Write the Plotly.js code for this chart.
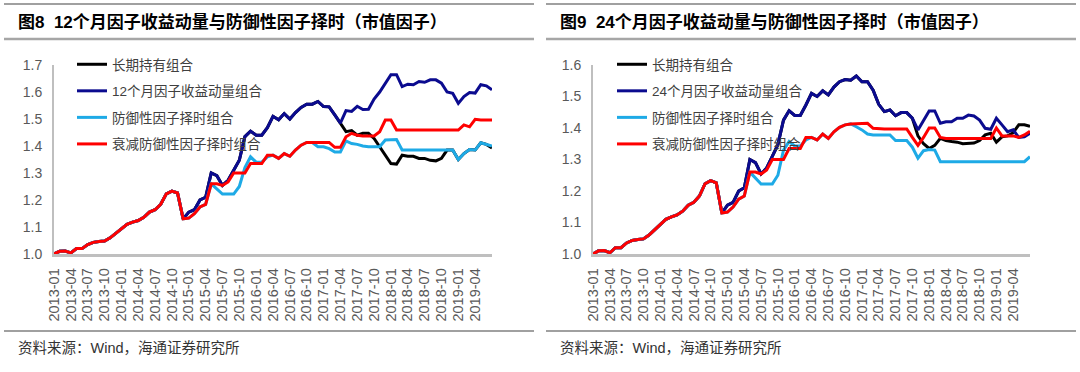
<!DOCTYPE html>
<html>
<head>
<meta charset="utf-8">
<script src="https://cdn.plot.ly/plotly-3.0.1.min.js"></script>
<style>html,body{margin:0;padding:0;background:#fff;}#chart{width:1080px;height:372px;}</style>
</head>
<body>
<div id="chart"></div>
<script>
const months = [
 "2013-01","2013-02","2013-03","2013-04","2013-05","2013-06","2013-07","2013-08","2013-09","2013-10","2013-11","2013-12",
 "2014-01","2014-02","2014-03","2014-04","2014-05","2014-06","2014-07","2014-08","2014-09","2014-10","2014-11","2014-12",
 "2015-01","2015-02","2015-03","2015-04","2015-05","2015-06","2015-07","2015-08","2015-09","2015-10","2015-11","2015-12",
 "2016-01","2016-02","2016-03","2016-04","2016-05","2016-06","2016-07","2016-08","2016-09","2016-10","2016-11","2016-12",
 "2017-01","2017-02","2017-03","2017-04","2017-05","2017-06","2017-07","2017-08","2017-09","2017-10","2017-11","2017-12",
 "2018-01","2018-02","2018-03","2018-04","2018-05","2018-06","2018-07","2018-08","2018-09","2018-10","2018-11","2018-12",
 "2019-01","2019-02","2019-03","2019-04","2019-05","2019-06","2019-07"
];
const tickLabels = ["2013-01","2013-04","2013-07","2013-10","2014-01","2014-04","2014-07","2014-10",
 "2015-01","2015-04","2015-07","2015-10","2016-01","2016-04","2016-07","2016-10",
 "2017-01","2017-04","2017-07","2017-10","2018-01","2018-04","2018-07","2018-10","2019-01","2019-04"];
const yTicks1 = [1.0,1.1,1.2,1.3,1.4,1.5,1.6,1.7];
const yTicks2 = [1.0,1.1,1.2,1.3,1.4,1.5,1.6];

const names1 = ["长期持有组合","12个月因子收益动量组合","防御性因子择时组合","衰减防御性因子择时组合"];
const names2 = ["长期持有组合","24个月因子收益动量组合","防御性因子择时组合","衰减防御性因子择时组合"];

// Figure 8 (12-month)
const hold12 = [
 1.000,1.010,1.011,1.004,1.020,1.020,1.035,1.043,1.046,1.048,
 1.060,1.077,1.093,1.110,1.118,1.124,1.136,1.155,1.164,1.184,
 1.223,1.233,1.226,1.130,1.155,1.164,1.200,1.210,1.300,1.290,
 1.254,1.273,1.310,1.347,1.435,1.455,1.440,1.440,1.468,1.510,
 1.497,1.520,1.500,1.524,1.543,1.555,1.555,1.565,1.546,1.545,
 1.515,1.485,1.453,1.457,1.440,1.447,1.447,1.428,1.397,1.366,
 1.335,1.333,1.366,1.362,1.362,1.354,1.354,1.347,1.345,1.354,
 1.385,1.385,1.350,1.372,1.387,1.385,1.412,1.406,1.393];
const mom12 = [
 1.000,1.010,1.011,1.004,1.020,1.020,1.035,1.043,1.046,1.048,
 1.060,1.077,1.093,1.110,1.118,1.124,1.136,1.155,1.164,1.184,
 1.223,1.233,1.226,1.130,1.155,1.164,1.200,1.210,1.300,1.290,
 1.254,1.273,1.310,1.347,1.435,1.455,1.440,1.440,1.468,1.510,
 1.497,1.520,1.500,1.524,1.543,1.555,1.555,1.565,1.546,1.545,
 1.515,1.485,1.531,1.528,1.547,1.535,1.536,1.574,1.600,1.633,
 1.664,1.664,1.620,1.629,1.627,1.639,1.636,1.645,1.645,1.633,
 1.600,1.595,1.558,1.583,1.598,1.596,1.627,1.623,1.608];
const def12 = [
 1.000,1.010,1.011,1.004,1.020,1.020,1.035,1.043,1.046,1.048,
 1.060,1.077,1.093,1.110,1.118,1.124,1.136,1.155,1.164,1.184,
 1.223,1.233,1.226,1.130,1.133,1.149,1.174,1.184,1.260,1.240,
 1.222,1.222,1.222,1.250,1.320,1.360,1.340,1.340,1.360,1.366,
 1.354,1.372,1.362,1.385,1.403,1.413,1.413,1.397,1.397,1.390,
 1.378,1.378,1.419,1.409,1.406,1.400,1.397,1.397,1.397,1.422,
 1.422,1.424,1.385,1.385,1.385,1.385,1.385,1.385,1.385,1.385,
 1.385,1.385,1.350,1.372,1.387,1.385,1.412,1.406,1.400];
const decay12 = [
 1.000,1.010,1.011,1.004,1.020,1.020,1.035,1.043,1.046,1.048,
 1.060,1.077,1.093,1.110,1.118,1.124,1.136,1.155,1.164,1.184,
 1.223,1.233,1.226,1.130,1.133,1.149,1.174,1.184,1.260,1.260,
 1.254,1.267,1.300,1.300,1.300,1.335,1.335,1.335,1.366,1.366,
 1.354,1.372,1.362,1.385,1.403,1.413,1.413,1.413,1.413,1.413,
 1.395,1.395,1.434,1.447,1.440,1.437,1.437,1.437,1.453,1.496,
 1.496,1.459,1.459,1.459,1.459,1.459,1.459,1.459,1.459,1.459,
 1.459,1.459,1.459,1.478,1.471,1.499,1.496,1.496,1.496];

// Figure 9 (24-month)
const hold24 = [
 1.000,1.010,1.011,1.004,1.020,1.020,1.035,1.043,1.046,1.048,
 1.060,1.077,1.093,1.110,1.118,1.124,1.136,1.155,1.164,1.184,
 1.223,1.233,1.226,1.130,1.155,1.164,1.200,1.210,1.300,1.290,
 1.254,1.273,1.310,1.347,1.425,1.455,1.440,1.440,1.473,1.510,
 1.500,1.518,1.505,1.530,1.547,1.554,1.552,1.565,1.547,1.547,
 1.520,1.475,1.452,1.457,1.439,1.449,1.449,1.431,1.375,1.350,
 1.335,1.345,1.367,1.360,1.357,1.355,1.350,1.350,1.352,1.360,
 1.378,1.383,1.355,1.372,1.375,1.385,1.410,1.410,1.405];
const mom24 = [
 1.000,1.010,1.011,1.004,1.020,1.020,1.035,1.043,1.046,1.048,
 1.060,1.077,1.093,1.110,1.118,1.124,1.136,1.155,1.164,1.184,
 1.223,1.233,1.226,1.130,1.155,1.164,1.200,1.210,1.300,1.290,
 1.254,1.273,1.310,1.347,1.425,1.455,1.440,1.440,1.473,1.510,
 1.500,1.518,1.505,1.530,1.547,1.554,1.552,1.565,1.547,1.547,
 1.520,1.475,1.452,1.457,1.439,1.449,1.449,1.431,1.394,1.423,
 1.454,1.454,1.415,1.420,1.420,1.431,1.431,1.441,1.438,1.425,
 1.399,1.396,1.431,1.410,1.388,1.394,1.370,1.372,1.383];
const def24 = [
 1.000,1.010,1.011,1.004,1.020,1.020,1.035,1.043,1.046,1.048,
 1.060,1.077,1.093,1.110,1.118,1.124,1.136,1.155,1.164,1.184,
 1.223,1.233,1.226,1.130,1.133,1.149,1.174,1.184,1.260,1.240,
 1.222,1.222,1.222,1.250,1.330,1.357,1.343,1.343,1.362,1.370,
 1.362,1.381,1.367,1.388,1.402,1.410,1.413,1.404,1.394,1.381,
 1.378,1.378,1.378,1.378,1.360,1.360,1.360,1.339,1.304,1.328,
 1.332,1.330,1.293,1.293,1.293,1.293,1.293,1.293,1.293,1.293,
 1.293,1.293,1.293,1.293,1.293,1.293,1.293,1.293,1.309];
const decay24 = [
 1.000,1.010,1.011,1.004,1.020,1.020,1.035,1.043,1.046,1.048,
 1.060,1.077,1.093,1.110,1.118,1.124,1.136,1.155,1.164,1.184,
 1.223,1.233,1.226,1.130,1.133,1.149,1.174,1.184,1.260,1.260,
 1.254,1.267,1.300,1.300,1.300,1.335,1.335,1.335,1.370,1.370,
 1.362,1.381,1.367,1.388,1.402,1.410,1.413,1.413,1.413,1.415,
 1.399,1.397,1.397,1.397,1.397,1.397,1.397,1.370,1.345,1.370,
 1.400,1.400,1.370,1.367,1.367,1.367,1.367,1.367,1.367,1.367,
 1.367,1.367,1.400,1.375,1.375,1.375,1.370,1.378,1.390];

const colors = ["#000000","#0b0b8f","#1eaae6","#ff0000"];
const FONT = "Liberation Sans, Arial, Noto Sans CJK SC, sans-serif";
const W = 1080, H = 372;
const px = v => v / W;
const py = v => 1 - v / H;

function mk(y, name, i, xa, ya, lg) {
  return {type:"scatter", mode:"lines", x: months, y: y, name: name,
    xaxis: xa, yaxis: ya, legend: lg, legendgroup: lg + i,
    line:{color: colors[i], width: 3}, hoverinfo:"skip"};
}
const series1 = [hold12, mom12, def12, decay12];
const series2 = [hold24, mom24, def24, decay24];
const data = [];
series1.forEach((s,i)=>data.push(mk(s, names1[i], i, "x", "y", "legend")));
series2.forEach((s,i)=>data.push(mk(s, names2[i], i, "x2", "y2", "legend2")));

function xax(d0, d1, anchor) {
  return {type:"category", domain:[px(d0), px(d1)], range:[0, months.length-1], anchor: anchor,
    showline:true, linecolor:"#bfbfbf", linewidth:2.5, ticks:"", showgrid:false, zeroline:false,
    tickmode:"array", tickvals: tickLabels, ticktext: tickLabels, tickangle:-90,
    tickfont:{family:FONT, size:14.5, color:"#595959"}, ticklabelstandoff:6, fixedrange:true};
}
function yax(ticks, anchor) {
  return {domain:[1 - 254/H, 1 - 65/H], range:[ticks[0], ticks[ticks.length-1]], anchor: anchor,
    showline:true, linecolor:"#bfbfbf", linewidth:2, ticks:"", showgrid:false, zeroline:false,
    tickmode:"array", tickvals: ticks, ticktext: ticks.map(v=>v.toFixed(1)),
    tickfont:{family:FONT, size:14, color:"#595959"}, ticklabelstandoff:7, fixedrange:true};
}
function leg(xpx) {
  return {x: px(xpx), y: py(49), xanchor:"left", yanchor:"top", bgcolor:"rgba(0,0,0,0)",
    font:{family:FONT, size:13.5, color:"#404040"}, traceorder:"grouped", tracegroupgap:6,
    itemclick:false, itemdoubleclick:false};
}

const shapes = [];
[[4, 534],[546, 1076]].forEach(([a,b])=>{
  shapes.push({type:"line", xref:"paper", yref:"paper", x0:px(a), x1:px(b), y0:py(4), y1:py(4), line:{color:"#808080", width:1.5}});
  shapes.push({type:"line", xref:"paper", yref:"paper", x0:px(a), x1:px(b), y0:py(39), y1:py(39), line:{color:"#a6a6a6", width:2.5}});
  shapes.push({type:"line", xref:"paper", yref:"paper", x0:px(a), x1:px(b), y0:py(331), y1:py(331), line:{color:"#808080", width:1.5}});
});

const titles = ["图8  12个月因子收益动量与防御性因子择时（市值因子）", "图9  24个月因子收益动量与防御性因子择时（市值因子）"];
const source = "资料来源：Wind，海通证券研究所";
const annotations = [
  {xref:"paper", yref:"paper", x:px(16), y:py(22), xanchor:"left", yanchor:"middle", showarrow:false,
   text:"<b>"+titles[0]+"</b>", font:{family:FONT, size:17, color:"#000"}},
  {xref:"paper", yref:"paper", x:px(558), y:py(22), xanchor:"left", yanchor:"middle", showarrow:false,
   text:"<b>"+titles[1]+"</b>", font:{family:FONT, size:17, color:"#000"}},
  {xref:"paper", yref:"paper", x:px(16), y:py(348), xanchor:"left", yanchor:"middle", showarrow:false,
   text:source, font:{family:FONT, size:14.5, color:"#333"}},
  {xref:"paper", yref:"paper", x:px(558), y:py(348), xanchor:"left", yanchor:"middle", showarrow:false,
   text:source, font:{family:FONT, size:14.5, color:"#333"}}
];

const layout = {
  width: W, height: H, margin:{l:0, r:0, t:0, b:0}, paper_bgcolor:"#fff", plot_bgcolor:"#fff",
  font:{family:FONT},
  showlegend:true,
  xaxis: xax(54, 492, "y"), yaxis: yax(yTicks1, "x"),
  xaxis2: xax(593, 1030, "y2"), yaxis2: yax(yTicks2, "x2"),
  legend: leg(72), legend2: leg(612),
  shapes: shapes, annotations: annotations
};
Plotly.newPlot("chart", data, layout, {displayModeBar:false, staticPlot:true});
</script>
</body>
</html>
